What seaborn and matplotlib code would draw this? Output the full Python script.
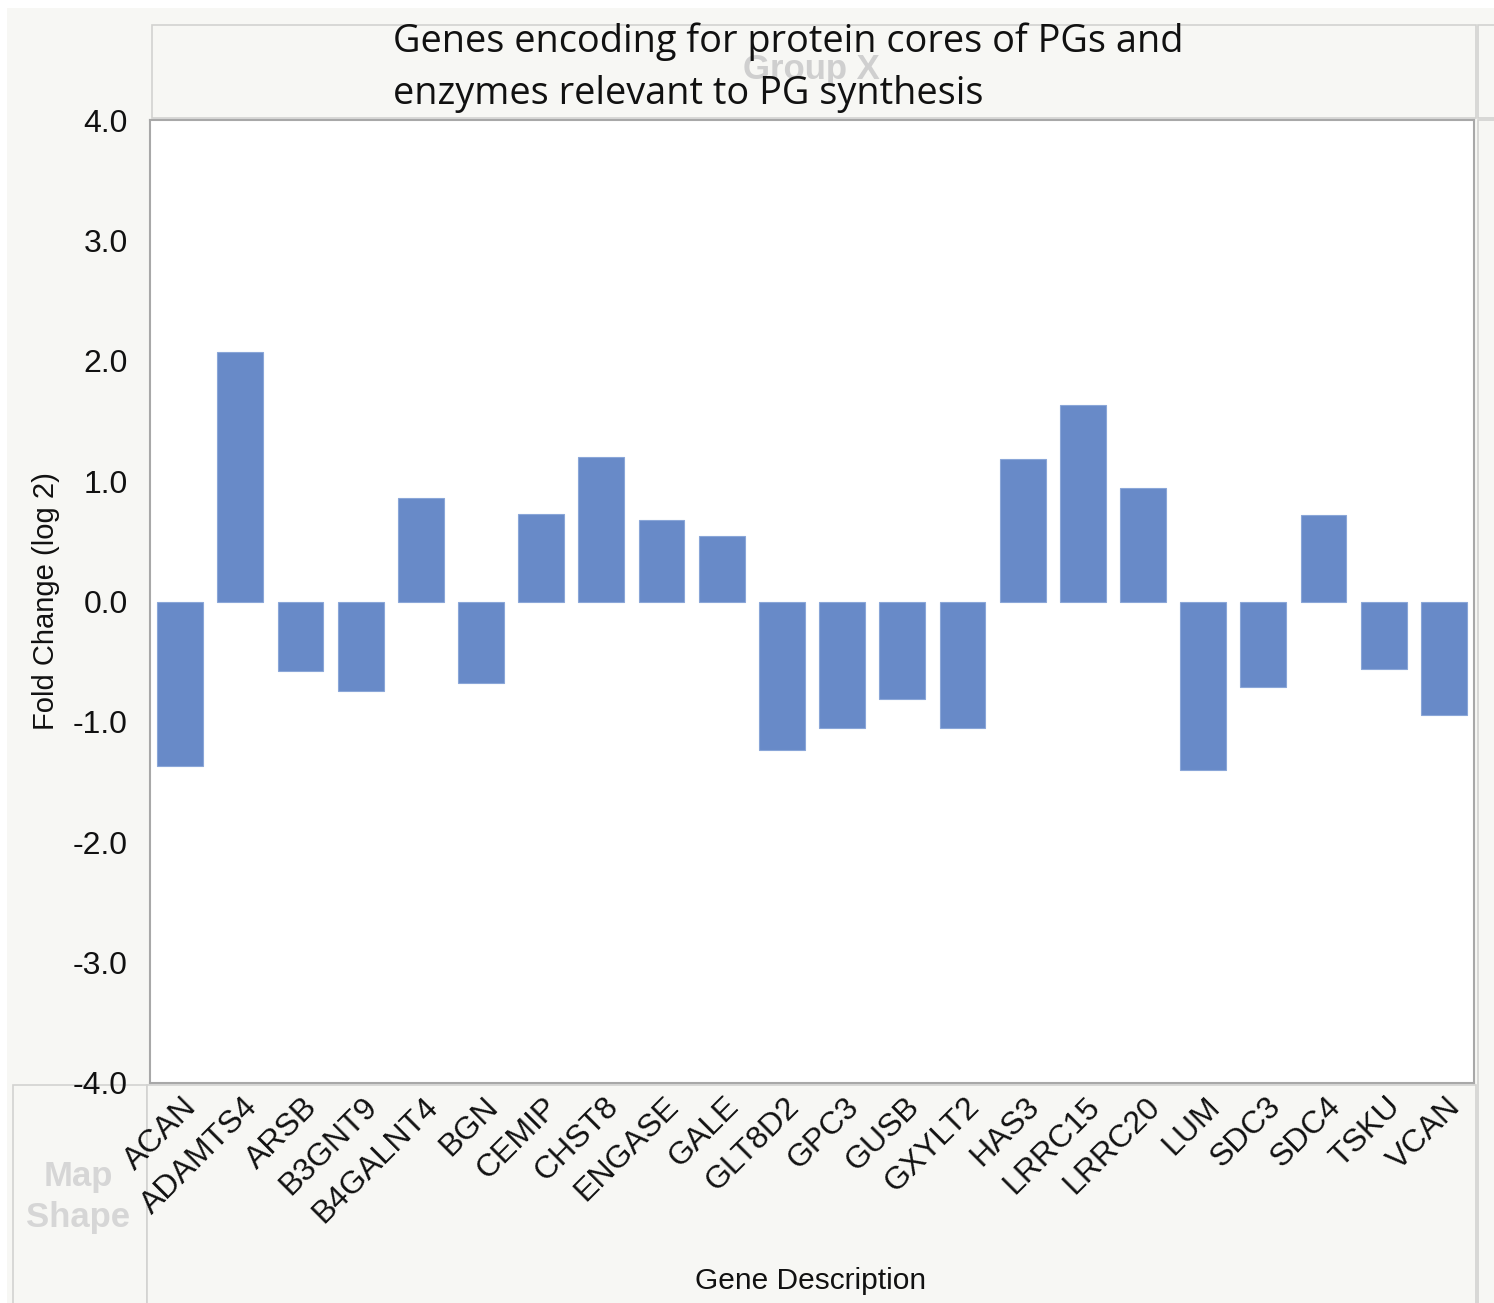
import pandas as pd
import matplotlib.pyplot as plt
import seaborn as sns
from matplotlib.patches import Rectangle
from matplotlib.transforms import ScaledTranslation

sns.set_style("white")
plt.rcParams["font.family"] = ["Liberation Sans", "DejaVu Sans"]
plt.rcParams["text.color"] = "#111111"
plt.rcParams["axes.labelcolor"] = "#111111"
plt.rcParams["xtick.color"] = "#111111"
plt.rcParams["ytick.color"] = "#111111"

# Data
genes = ["ACAN", "ADAMTS4", "ARSB", "B3GNT9", "B4GALNT4", "BGN", "CEMIP", "CHST8",
         "ENGASE", "GALE", "GLT8D2", "GPC3", "GUSB", "GXYLT2", "HAS3", "LRRC15",
         "LRRC20", "LUM", "SDC3", "SDC4", "TSKU", "VCAN"]
fold_change = [-1.37, 2.07, -0.58, -0.74, 0.86, -0.68, 0.73, 1.20,
               0.68, 0.54, -1.23, -1.05, -0.81, -1.05, 1.18, 1.63,
               0.94, -1.40, -0.71, 0.72, -0.56, -0.94]
y_ticks = [-4.0, -3.0, -2.0, -1.0, 0.0, 1.0, 2.0, 3.0, 4.0]

df = pd.DataFrame({"Gene": genes, "FC": fold_change})

W, H = 1494, 1303
fig = plt.figure(figsize=(W / 100, H / 100), dpi=100, facecolor="white")

panel = "#f7f7f4"
edge = "#d2d2d0"

def box(x0, y0, x1, y1, fc=panel, ec=edge, lw=1.2, z=-10):
    fig.patches.append(Rectangle((x0 / W, 1 - y1 / H), (x1 - x0) / W, (y1 - y0) / H,
                                 transform=fig.transFigure, facecolor=fc,
                                 edgecolor=ec, linewidth=lw, zorder=z))

# JMP-like panel background
box(7, 8, W, H, ec="none", z=-20)
box(152, 25, 1476, 118)            # Group X header
box(1478, 25, W + 5, 118)
box(13, 1085, 147, H + 5)          # Map Shape box
box(147, 1085, 1476, H + 5)        # x axis area
box(1478, 120, W + 5, H + 5)

ax = fig.add_axes([150 / W, 1 - 1083 / H, (1474 - 150) / W, (1083 - 120) / H])
ax.set_zorder(1)
ax.set_facecolor("white")

sns.barplot(data=df, x="Gene", y="FC", color="#688ac8", width=0.76,
            edgecolor="#8aa6d8", linewidth=0.8, saturation=1, ax=ax)

ax.set_ylim(-4, 4)
ax.set_xlim(-0.5, len(genes) - 0.5)
ax.set_yticks(y_ticks)
ax.set_yticklabels([f"{v:.1f}" for v in y_ticks], fontsize=23)
ax.tick_params(axis="y", direction="out", length=12, width=1.2, color="#a8a8a8", pad=4)
ax.tick_params(axis="x", length=0, pad=2)

for s in ax.spines.values():
    s.set_color("#a8a8a8")
    s.set_linewidth(1.5)

ax.set_xticks(range(len(genes)))
ax.set_xticklabels(genes, rotation=45, ha="right", va="top",
                   rotation_mode="anchor", fontsize=23)
shift = ScaledTranslation(0.02, -0.06, fig.dpi_scale_trans)
for lab in ax.get_xticklabels():
    lab.set_transform(lab.get_transform() + shift)

ax.set_xlabel("")
ax.set_ylabel("Fold Change (log 2)", fontsize=21, labelpad=9)

fig.text(811 / W, 1 - 1281 / H, "Gene Description", fontsize=21.5,
         ha="center", va="center", zorder=5)

# faded panel labels
fig.text(811 / W, 1 - 70 / H, "Group X", fontsize=25, fontweight="bold",
         color="#cfcfcf", ha="center", va="center", zorder=5)
fig.text(78 / W, 1 - 1197 / H, "Map\nShape", fontsize=25, fontweight="bold",
         color="#d6d6d6", ha="center", va="center", linespacing=1.3, zorder=5)

# title overlay
fig.text(393 / W, 1 - 68 / H,
         "Genes encoding for protein cores of PGs and\nenzymes relevant to PG synthesis",
         fontsize=27.3, family=["Open Sans", "DejaVu Sans"], ha="left", va="center",
         linespacing=1.48, color="#111111", zorder=6)

plt.savefig("out.png", dpi=100, facecolor=fig.get_facecolor())
plt.close()
